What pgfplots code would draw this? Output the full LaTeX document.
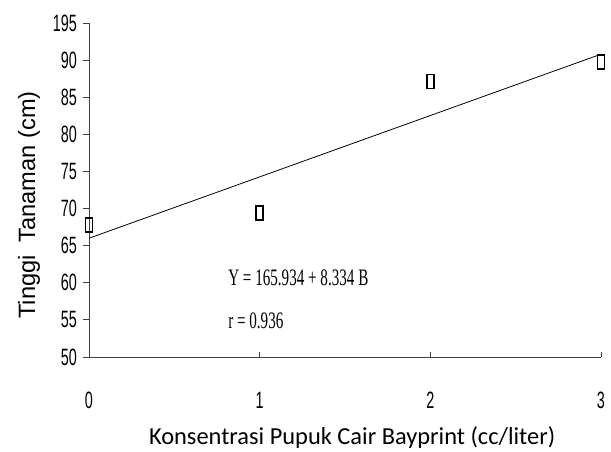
\documentclass[border=0pt]{standalone}
\usepackage{fontspec}
\usepackage{pgfplots}
\pgfplotsset{compat=1.18}
\setmainfont{Liberation Sans}
\newfontfamily\ticknarrow[FakeStretch=0.61]{Liberation Sans}
\newfontfamily\eqnarrow[FakeStretch=0.64]{Liberation Serif}
\newfontfamily\calib{Carlito}

\begin{document}
\begin{tikzpicture}
\begin{axis}[
  name=ax,
  at={(0,0)}, anchor=south west,
  scale only axis,
  width=512bp, height=334bp,
  xmin=0, xmax=3, ymin=50, ymax=95,
  axis lines=left,
  axis line style={-, draw=black!75, line width=0.9pt},
  clip=false,
  xtick={0,1,2,3},
  xticklabels={0,1,2,3},
  ytick={50,55,60,65,70,75,80,85,90,95},
  yticklabels={50,55,60,65,70,75,80,85,90,195},
  tick align=inside,
  major tick length=5.5bp,
  tick style={draw=black!75, line width=0.9pt},
  y tick style={xshift=-5.5bp},
  tick label style={font=\ticknarrow\fontsize{23.7}{26}\selectfont, inner sep=0pt},
  xticklabel style={anchor=base, yshift=-51bp},
  yticklabel style={anchor=east, xshift=-12bp},
  xlabel={Konsentrasi Pupuk Cair Bayprint (cc/liter)},
  xlabel style={font=\calib\fontsize{24.5}{27}\selectfont, inner sep=0pt,
    at={(axis description cs:0.514,-0.262)}, anchor=base},
  ylabel={Tinggi\ \ Tanaman (cm)},
  ylabel style={font=\fontsize{23.7}{26}\selectfont, inner sep=0pt,
    at={(axis description cs:-0.117,0.455)}, anchor=center, rotate=0},
]
% fitted regression line
\addplot[black, line width=0.8pt, mark=none] coordinates {(0,66.0) (3,90.8)};
% observed plant heights
\addplot[only marks, mark=square, mark size=7bp,
  mark options={xscale=0.5, draw=black, line width=1.4pt}]
  coordinates {(0,67.8) (1,69.4) (2,87.1) (3,89.75)};
\node[anchor=base west, inner sep=0pt, font=\eqnarrow\fontsize{23.7}{26}\selectfont]
  at (axis cs:0.815,59.7) {Y = 165.934 + 8.334 B};
\node[anchor=base west, inner sep=0pt, font=\eqnarrow\fontsize{23.7}{26}\selectfont]
  at (axis cs:0.815,53.8) {r = 0.936};
\end{axis}
\pgfresetboundingbox
\path ([xshift=-89bp,yshift=-95bp]ax.south west) rectangle ([xshift=10bp,yshift=23bp]ax.north east);
\end{tikzpicture}
\end{document}
